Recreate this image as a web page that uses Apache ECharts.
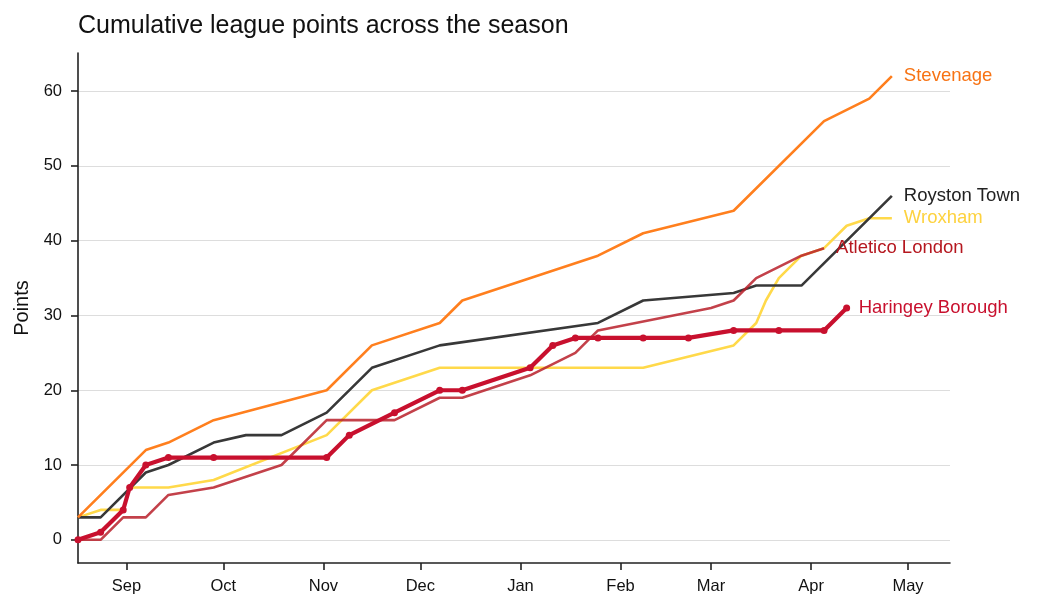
<!DOCTYPE html>
<html>
<head>
<meta charset="utf-8">
<title>Cumulative league points</title>
<script src="https://cdn.jsdelivr.net/npm/echarts@6.0.0/dist/echarts.min.js"></script>
<style>
    html, body { margin: 0; padding: 0; background: #fff; }
    #main { width: 1038px; height: 610px; }
</style>
</head>
<body>
<div id="main"></div>
<script>
//月份刻度
var monthTicks = ['2022-09-01','2022-10-01','2022-11-01','2022-12-01','2023-01-01','2023-02-01','2023-03-01','2023-04-01','2023-05-01'];
var monthNames = ['Jan','Feb','Mar','Apr','May','Jun','Jul','Aug','Sep','Oct','Nov','Dec'];
var pointTicks = [0, 10, 20, 30, 40, 50, 60];

//Stevenage
var stevenageDates = ['2022-08-17','2022-09-07','2022-09-14','2022-09-28','2022-11-02','2022-11-16','2022-12-07','2022-12-14','2023-01-25','2023-02-08','2023-03-08','2023-04-05','2023-04-19','2023-04-26'];
var stevenagePts = [3,12,13,16,20,26,29,32,38,41,44,56,59,62];
//Royston Town
var roystonDates = ['2022-08-17','2022-08-24','2022-09-07','2022-09-14','2022-09-28','2022-10-08','2022-10-19','2022-11-02','2022-11-16','2022-12-07','2023-01-25','2023-02-08','2023-03-08','2023-03-15','2023-03-29','2023-04-26'];
var roystonPts = [3,3,9,10,13,14,14,17,23,26,29,32,33,34,34,46];
//Wroxham
var wroxhamDates = ['2022-08-17','2022-08-24','2022-08-31','2022-09-02','2022-09-14','2022-09-28','2022-11-02','2022-11-16','2022-12-07','2023-02-08','2023-03-08','2023-03-15','2023-03-18','2023-03-22','2023-03-29','2023-04-05','2023-04-12','2023-04-19','2023-04-26'];
var wroxhamPts = [3,4,4,7,7,8,14,20,23,23,26,29,32,35,38,39,42,43,43];
//Atletico London
var atleticoDates = ['2022-08-17','2022-08-24','2022-08-31','2022-09-07','2022-09-14','2022-09-28','2022-10-19','2022-11-02','2022-11-23','2022-12-07','2022-12-14','2023-01-04','2023-01-18','2023-01-25','2023-03-01','2023-03-08','2023-03-15','2023-03-29','2023-04-05'];
var atleticoPts = [0,0,3,3,6,7,10,16,16,19,19,22,25,28,31,32,35,38,39];
//Haringey Borough
var haringeyDates = ['2022-08-17','2022-08-24','2022-08-31','2022-09-02','2022-09-07','2022-09-14','2022-09-28','2022-11-02','2022-11-09','2022-11-23','2022-12-07','2022-12-14','2023-01-04','2023-01-11','2023-01-18','2023-01-25','2023-02-08','2023-02-22','2023-03-08','2023-03-22','2023-04-05','2023-04-12'];
var haringeyPts = [0,1,4,7,10,11,11,11,14,17,20,20,23,26,27,27,27,27,28,28,28,31];

var FONT = '"Liberation Sans", Arial, Helvetica, sans-serif';

function toTime(s) {
    var p = s.split('-');
    return new Date(+p[0], +p[1] - 1, +p[2]).getTime();
}
function pairs(dates, pts) {
    var out = [];
    for (var i = 0; i < dates.length; i++) {
        out.push([toTime(dates[i]), pts[i]]);
    }
    return out;
}
function teamLine(name, dates, pts, color, width, labelColor, opacity) {
    return {
        name: name,
        type: 'line',
        data: pairs(dates, pts),
        showSymbol: false,
        symbol: 'none',
        animation: false,
        lineStyle: { color: color, width: width, opacity: opacity || 1 },
        itemStyle: { color: color },
        endLabel: {
            show: true,
            formatter: '{a}',
            color: labelColor || color,
            fontSize: 18.5,
            fontFamily: FONT,
            distance: 12
        }
    };
}

var monthValues = monthTicks.map(toTime);

var haringey = teamLine('Haringey Borough', haringeyDates, haringeyPts, '#c8102e', 4.2);
haringey.symbol = 'circle';
haringey.showSymbol = true;
haringey.symbolSize = 7;
haringey.z = 5;

var option = {
    backgroundColor: '#fff',
    animation: false,
    textStyle: { fontFamily: FONT },
    title: {
        text: 'Cumulative league points across the season',
        left: 73,
        top: 9,
        textStyle: { fontSize: 25, fontWeight: 'normal', color: '#111', fontFamily: FONT }
    },
    grid: { left: 78, right: 88, top: 53, bottom: 47, containLabel: false },
    xAxis: {
        type: 'value',
        min: toTime('2022-08-17'),
        max: toTime('2023-05-14'),
        axisLine: { onZero: false, lineStyle: { color: '#222', width: 1.6 } },
        axisTick: { show: true, customValues: monthValues, length: 7, lineStyle: { color: '#222', width: 1.6 } },
        axisLabel: {
            customValues: monthValues,
            formatter: function (v) { return monthNames[new Date(v).getMonth()]; },
            color: '#111',
            fontSize: 16.5,
            margin: 15
        },
        splitLine: { show: false }
    },
    yAxis: {
        type: 'value',
        min: -3.1,
        max: 65.1,
        name: 'Points',
        nameLocation: 'middle',
        nameGap: 44,
        nameTextStyle: { fontSize: 20, color: '#111' },
        axisLine: { show: true, onZero: false, lineStyle: { color: '#222', width: 1.6 } },
        axisTick: { show: true, customValues: pointTicks, length: 7, lineStyle: { color: '#222', width: 1.6 } },
        axisLabel: { customValues: pointTicks, color: '#111', fontSize: 16.5, margin: 16 },
        splitLine: { show: true, lineStyle: { color: '#dddddd', width: 1 } }
    },
    series: [
        teamLine('Wroxham', wroxhamDates, wroxhamPts, '#ffd94a', 2.6, '#fdd23f'),
        teamLine('Royston Town', roystonDates, roystonPts, '#383838', 2.6, '#222'),
        teamLine('Stevenage', stevenageDates, stevenagePts, '#ff7f1e', 2.6, '#f77314'),
        teamLine('Atletico London', atleticoDates, atleticoPts, '#b8202a', 2.6, '#b5171f', 0.85),
        haringey
    ]
};

var myChart = echarts.init(document.getElementById('main'), null, { renderer: 'canvas' });
myChart.setOption(option);
</script>
</body>
</html>
